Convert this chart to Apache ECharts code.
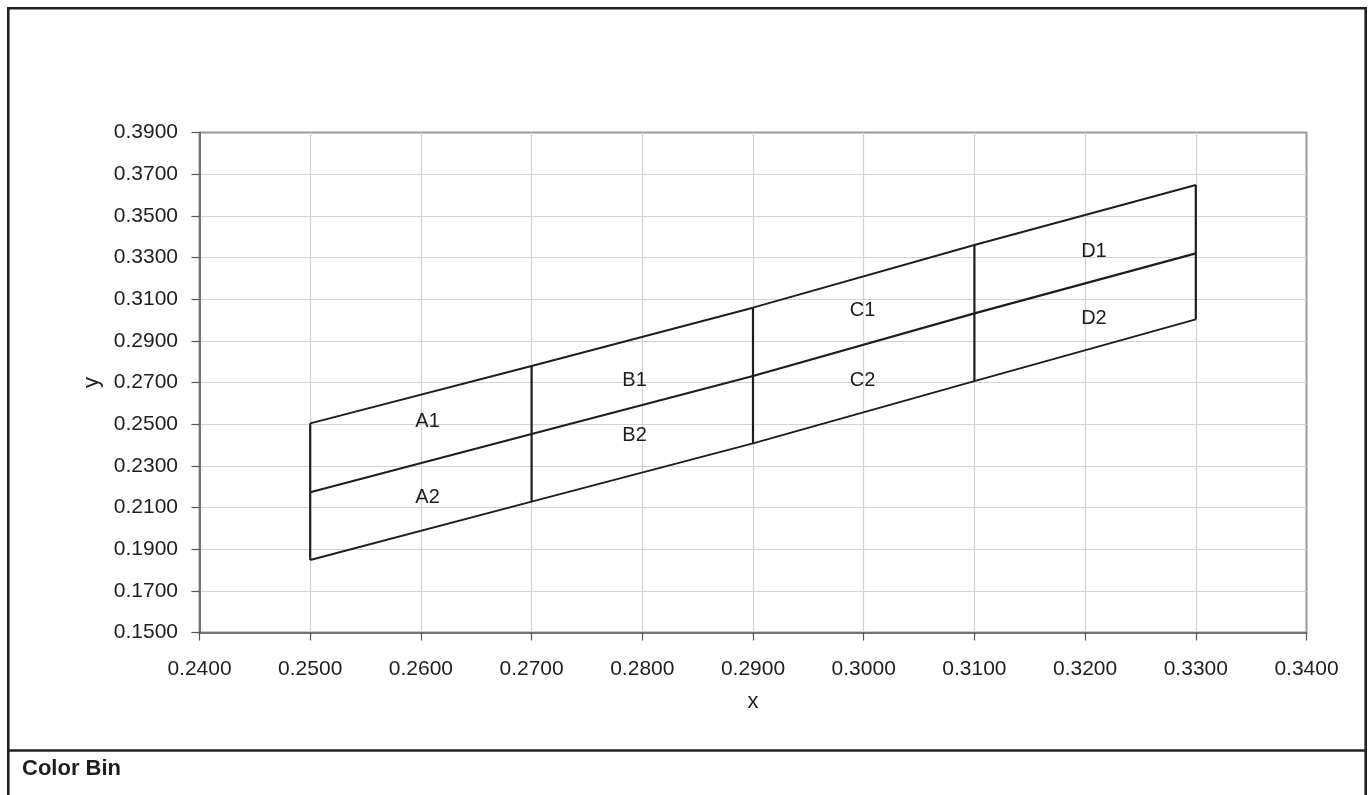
<!DOCTYPE html>
<html>
<head>
<meta charset="utf-8">
<script src="https://cdn.jsdelivr.net/npm/echarts@6/dist/echarts.min.js"></script>
<style>
html,body{margin:0;padding:0;background:#fff;}
#chart{width:1368px;height:795px;}
</style>
</head>
<body>
<div id="chart"></div>
<script>
// ---- data ----
const xs = [0.25, 0.27, 0.29, 0.31, 0.33];
const upper = [0.2504, 0.2779, 0.3059, 0.3360, 0.3648];
const middle = [0.2173, 0.2453, 0.2731, 0.3032, 0.3320];
const lower = [0.1848, 0.2128, 0.2408, 0.2707, 0.3003];
const cellNames = ['A1', 'A2', 'B1', 'B2', 'C1', 'C2', 'D1', 'D2'];
const cellX = [0.2606, 0.2606, 0.2793, 0.2793, 0.2999, 0.2999, 0.3208, 0.3208];
const cellY = [0.2514, 0.2150, 0.2712, 0.2447, 0.3048, 0.2711, 0.3328, 0.3005];
const xAxisRange = [0.24, 0.34];
const xStep = 0.01;
const yAxisRange = [0.15, 0.39];
const yStep = 0.02;
const footerText = 'Color Bin';

const FONT = '"Liberation Sans", Arial, sans-serif';
const INK = '#1e1e1e';

function lineSeries(data, width) {
  return {
    type: 'line',
    data: data,
    symbol: 'none',
    silent: true,
    lineStyle: { color: INK, width: width },
    z: 3
  };
}

const series = [];
series.push(lineSeries(xs.map((x, i) => [x, upper[i]]), 1.9));
series.push(lineSeries(xs.map((x, i) => [x, middle[i]]), 2.2));
series.push(lineSeries(xs.map((x, i) => [x, lower[i]]), 1.9));
xs.forEach((x, i) => {
  series.push(lineSeries([[x, lower[i]], [x, upper[i]]], 2.2));
});
series.push({
  type: 'scatter',
  symbolSize: 0,
  silent: true,
  itemStyle: { opacity: 1 },
  data: cellNames.map((n, i) => ({ name: n, value: [cellX[i], cellY[i]] })),
  label: {
    show: true,
    position: 'inside',
    formatter: p => p.name,
    fontFamily: FONT,
    fontSize: 20,
    color: INK
  },
  z: 4
});

const chart = echarts.init(document.getElementById('chart'), null, { renderer: 'canvas' });
chart.setOption({
  animation: false,
  backgroundColor: '#ffffff',
  grid: {
    left: 199.5, right: 61.5, top: 132.5, bottom: 162.5,
    show: true, borderColor: '#9a9a9a', borderWidth: 2, backgroundColor: 'transparent'
  },
  xAxis: {
    type: 'value',
    min: xAxisRange[0], max: xAxisRange[1], interval: xStep,
    name: 'x', nameLocation: 'middle', nameGap: 58,
    nameTextStyle: { fontFamily: FONT, fontSize: 22, color: INK },
    axisLine: { show: true, lineStyle: { color: '#555', width: 1.5 } },
    axisTick: { show: true, length: 8, lineStyle: { color: '#555', width: 1.2 } },
    axisLabel: { margin: 26, fontFamily: FONT, fontSize: 21, color: INK, formatter: v => v.toFixed(4) },
    splitLine: { show: true, showMaxLine: false, lineStyle: { color: '#d3d3d3', width: 1.2 } }
  },
  yAxis: {
    type: 'value',
    min: yAxisRange[0], max: yAxisRange[1], interval: yStep,
    name: 'y', nameLocation: 'middle', nameGap: 82, nameRotate: 90,
    nameTextStyle: { fontFamily: FONT, fontSize: 22, color: INK },
    axisLine: { show: true, lineStyle: { color: '#555', width: 1.5 } },
    axisTick: { show: true, length: 8, lineStyle: { color: '#555', width: 1.2 } },
    axisLabel: { margin: 21.5, fontFamily: FONT, fontSize: 21, color: INK, formatter: v => v.toFixed(4) },
    splitLine: { show: true, showMaxLine: false, lineStyle: { color: '#d3d3d3', width: 1.2 } }
  },
  graphic: [
    { type: 'rect', silent: true, z: 100,
      shape: { x: 8.3, y: 8.3, width: 1357.4, height: 800 },
      style: { fill: 'none', stroke: '#222', lineWidth: 2.6 } },
    { type: 'line', silent: true, z: 100,
      shape: { x1: 8.3, y1: 750.5, x2: 1365.7, y2: 750.5 },
      style: { stroke: '#222', lineWidth: 2.4 } },
    { type: 'text', silent: true, z: 100, x: 22, y: 769,
      style: { text: footerText, font: 'bold 22px ' + FONT, fill: INK, verticalAlign: 'middle', textAlign: 'left' } }
  ],
  series: series
});
</script>
</body>
</html>
